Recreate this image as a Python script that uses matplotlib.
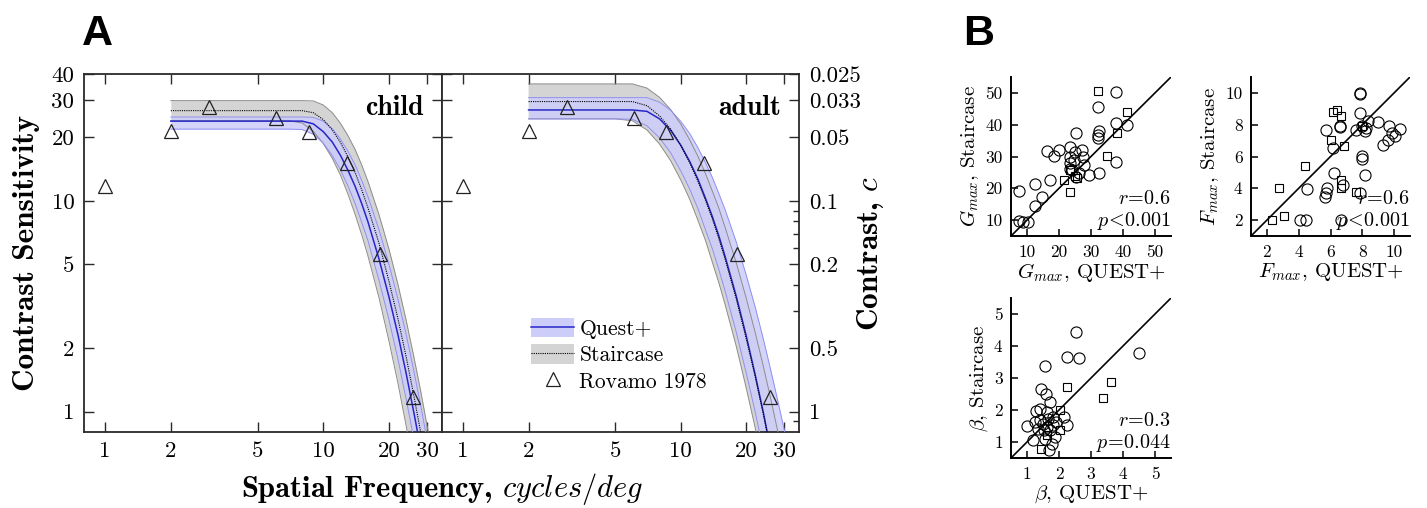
import matplotlib
matplotlib.use('Agg')
import matplotlib.pyplot as plt
from matplotlib.lines import Line2D
from matplotlib.patches import Patch
from matplotlib.ticker import FixedLocator, NullLocator

plt.rcParams['font.family'] = 'serif'
plt.rcParams['font.serif'] = ['cmr10']
plt.rcParams['mathtext.fontset'] = 'cm'
plt.rcParams['axes.unicode_minus'] = False
plt.rcParams['axes.formatter.use_mathtext'] = True

# ---- panel A: contrast sensitivity curves ----
freq = [2, 4, 5, 6, 7, 8, 9, 10, 11, 12, 13, 14, 15, 16, 18, 20, 22, 24, 26, 28, 30, 33]

child_quest = [23.9, 23.9, 23.9, 23.9, 23.9, 23.9, 23.2, 21.3, 19.0, 16.4, 13.9, 11.7, 9.7, 7.98, 5.3, 3.5,
               2.31, 1.51, 0.99, 0.66, 0.44, 0.24]
child_quest_hi = [25.0, 25.0, 25.0, 25.0, 25.0, 25.0, 24.9, 23.9, 22.0, 19.6, 17.1, 14.8, 12.5, 10.5, 7.3, 5.0,
                  3.41, 2.31, 1.56, 1.06, 0.72, 0.41]
child_quest_lo = [21.9, 21.9, 21.9, 21.9, 21.9, 21.8, 20.7, 18.8, 16.4, 14.0, 11.7, 9.7, 7.9, 6.5, 4.2, 2.73,
                  1.77, 1.14, 0.74, 0.48, 0.32, 0.17]
child_stair = [26.8, 26.8, 26.8, 26.8, 26.8, 26.8, 26.2, 24.3, 21.7, 18.9, 16.1, 13.6, 11.3, 9.3, 6.3, 4.15,
               2.75, 1.81, 1.19, 0.79, 0.53, 0.29]
child_stair_hi = [29.9, 29.9, 29.9, 29.9, 29.9, 29.9, 29.8, 28.5, 26.2, 23.3, 20.3, 17.5, 14.8, 12.4, 8.6, 5.9,
                  4.0, 2.70, 1.82, 1.24, 0.84, 0.47]
child_stair_lo = [24.0, 24.0, 24.0, 24.0, 24.0, 23.4, 21.4, 18.7, 15.9, 13.2, 10.7, 8.6, 6.9, 5.5, 3.47, 2.16,
                  1.36, 0.85, 0.54, 0.34, 0.22, 0.15]

adult_quest = [27.0, 27.0, 27.0, 27.0, 26.6, 24.5, 21.6, 18.4, 15.4, 12.7, 10.3, 8.4, 6.8, 5.46, 3.54, 2.30,
               1.50, 0.99, 0.65, 0.44, 0.30, 0.18]
adult_quest_hi = [30.9, 30.9, 30.9, 30.9, 30.9, 29.4, 26.9, 23.9, 20.9, 17.9, 15.2, 12.9, 10.8, 9.1, 6.4, 4.46,
                  3.14, 2.21, 1.56, 1.12, 0.81, 0.50]
adult_quest_lo = [24.5, 24.5, 24.5, 24.4, 22.7, 19.9, 16.9, 13.9, 11.4, 9.2, 7.3, 5.9, 4.7, 3.74, 2.39, 1.53,
                  1.0, 0.65, 0.43, 0.29, 0.20, 0.12]
adult_stair = [29.6, 29.6, 29.6, 29.6, 28.3, 25.3, 21.9, 18.4, 15.2, 12.4, 10.1, 8.2, 6.6, 5.3, 3.44, 2.23,
               1.47, 0.97, 0.65, 0.44, 0.30, 0.18]
adult_stair_hi = [35.9, 35.9, 35.9, 35.9, 34.3, 31.0, 27.1, 23.2, 19.5, 16.3, 13.5, 11.1, 9.2, 7.5, 5.1, 3.47,
                  2.38, 1.64, 1.14, 0.80, 0.57, 0.34]
adult_stair_lo = [24.5, 24.5, 24.5, 24.0, 21.7, 18.6, 15.5, 12.6, 10.2, 8.1, 6.5, 5.1, 4.07, 3.23, 2.05, 1.30,
                  0.84, 0.55, 0.36, 0.24, 0.16, 0.10]

rovamo_f = [1, 2, 3, 6.1, 8.6, 12.8, 18.2, 25.7]
rovamo_cs = [11.7, 21.5, 28.0, 24.7, 21.3, 15.1, 5.57, 1.17]

cs_ticks = [1, 2, 5, 10, 20, 30, 40]
cs_labels = ['1', '2', '5', '10', '20', '30', '40']
contrast_labels = ['1', '0.5', '0.2', '0.1', '0.05', '0.033', '0.025']
sf_ticks = [1, 2, 5, 10, 20, 30]

# ---- panel B: parameter scatter, QUEST+ (x) vs staircase (y) ----
gmax_circ_x = [7.6, 7.6, 8.7, 10.2, 12.6, 12.6, 14.6, 16.2, 17.1, 18.4, 19.9, 23.3, 23.3, 23.3, 23.3, 24.1,
               25.4, 25.4, 26.1, 27.1, 27.6, 27.8, 29.4, 32.3, 32.5, 32.3, 32.3, 32.5, 37.9, 37.9, 37.9, 41.2,
               24.9, 24.6]
gmax_circ_y = [19.1, 9.7, 9.5, 9.5, 21.5, 14.5, 17.3, 31.8, 22.6, 30.3, 32.2, 33.0, 29.9, 27.8, 26.2, 25.7,
               37.4, 23.6, 24.7, 32.0, 29.9, 27.3, 24.1, 45.6, 37.9, 36.7, 35.9, 24.7, 50.2, 40.4, 28.3, 39.8,
               31.5, 28.8]
gmax_sq_x = [32.3, 41.2, 38.1, 35.0, 21.5, 23.5, 23.5, 25.1, 25.6]
gmax_sq_y = [50.6, 44.0, 37.4, 30.2, 22.6, 18.9, 25.7, 23.9, 23.1]

fmax_circ_x = [5.74, 6.16, 6.20, 5.78, 5.70, 5.63, 4.52, 4.10, 4.48, 6.64, 6.58, 6.60, 6.79, 7.59, 7.84, 7.84,
               7.86, 7.84, 7.95, 8.01, 8.01, 8.16, 8.26, 8.37, 9.0, 9.31, 9.63, 9.69, 9.84, 10.05, 10.36, 8.16]
fmax_circ_y = [7.68, 6.53, 4.99, 4.0, 3.68, 3.47, 3.96, 2.0, 2.0, 2.0, 7.89, 7.84, 4.21, 7.68, 3.68, 10.0,
               9.96, 8.74, 7.89, 6.04, 5.83, 4.84, 7.79, 8.21, 8.15, 6.74, 7.05, 7.89, 7.47, 7.26, 7.73, 7.58]
fmax_sq_x = [2.32, 2.74, 3.05, 4.42, 6.0, 6.16, 6.41, 6.68, 6.85, 6.64, 6.64, 7.63, 7.99]
fmax_sq_y = [2.0, 4.04, 2.27, 5.41, 7.05, 8.80, 8.91, 8.53, 6.69, 4.0, 4.53, 3.79, 7.89]

beta_circ_x = [2.53, 2.26, 2.61, 4.50, 1.56, 1.45, 1.59, 1.71, 1.40, 1.29, 1.61, 1.80, 2.15, 2.24, 1.0, 1.19,
               1.56, 1.77, 1.69, 1.40, 1.50, 1.61, 1.82, 1.35, 1.71, 1.87, 1.24, 1.52, 1.92, 1.66]
beta_circ_y = [4.45, 3.66, 3.64, 3.79, 3.37, 2.67, 2.51, 2.25, 2.04, 1.97, 1.94, 1.78, 1.78, 1.52, 1.49, 1.05,
               1.10, 0.95, 0.74, 1.68, 1.57, 1.47, 1.52, 1.42, 1.37, 1.16, 1.63, 1.37, 1.63, 1.73]
beta_sq_x = [2.24, 3.62, 3.37, 2.03, 2.03, 1.45, 1.61]
beta_sq_y = [2.72, 2.88, 2.39, 1.99, 1.37, 0.79, 1.21]

W, H = 1427, 508
GRAY_FILL = '#d4d4d4'
GRAY_EDGE = '#8c8c8c'
BLUE_FILL = '#cdcdfa'
BLUE_EDGE = '#9090f2'
BLUE_LINE = '#2626c8'
FRAME = '#2a2a2a'

fig = plt.figure(figsize=(W / 100, H / 100), dpi=100)


def px_axes(left, top, right, bottom):
    return fig.add_axes([left / W, 1 - bottom / H, (right - left) / W, (bottom - top) / H])


def draw_csf(ax, q_mid, q_lo, q_hi, s_mid, s_lo, s_hi, name):
    ax.fill_between(freq, s_lo, s_hi, color=GRAY_FILL, lw=0, zorder=1)
    ax.fill_between(freq, q_lo, q_hi, color=BLUE_FILL, alpha=0.85, lw=0, zorder=2)
    for edge in (s_lo, s_hi):
        ax.plot(freq, edge, color=GRAY_EDGE, lw=0.7, zorder=3)
    for edge in (q_lo, q_hi):
        ax.plot(freq, edge, color=BLUE_EDGE, lw=0.7, zorder=3)
    ax.plot(freq, q_mid, color=BLUE_LINE, lw=1.1, zorder=4)
    ax.plot(freq, s_mid, color='k', lw=0.8, ls=(0, (1, 1)), zorder=5)
    ax.plot(rovamo_f, rovamo_cs, ls='none', marker='^', ms=10.5, mfc='none', mec='#222222', mew=0.9, zorder=6)

    ax.set_xscale('log')
    ax.set_yscale('log')
    ax.set_xlim(0.8, 35)
    ax.set_ylim(0.8, 40)
    ax.xaxis.set_major_locator(FixedLocator(sf_ticks))
    ax.set_xticklabels([str(t) for t in sf_ticks])
    ax.xaxis.set_minor_locator(NullLocator())
    ax.yaxis.set_major_locator(FixedLocator(cs_ticks))
    ax.yaxis.set_minor_locator(NullLocator())
    ax.tick_params(which='both', direction='in', top=True, right=True, left=True, bottom=True,
                   length=7, width=1.0, color=FRAME, labelsize=16.5, pad=7)
    for sp in ax.spines.values():
        sp.set_color(FRAME)
        sp.set_linewidth(1.3)
    ax.text(0.95, 0.905, name, transform=ax.transAxes, ha='right', va='center',
            fontsize=20, family='cmb10')


ax_child = px_axes(84, 74, 442, 432)
draw_csf(ax_child, child_quest, child_quest_lo, child_quest_hi,
         child_stair, child_stair_lo, child_stair_hi, 'child')
ax_child.set_yticklabels(cs_labels)

ax_adult = px_axes(442, 74, 799, 432)
draw_csf(ax_adult, adult_quest, adult_quest_lo, adult_quest_hi,
         adult_stair, adult_stair_lo, adult_stair_hi, 'adult')
ax_adult.set_yticklabels(contrast_labels)
ax_adult.tick_params(axis='y', labelleft=False, labelright=True)
ax_adult.yaxis.set_minor_locator(FixedLocator([0.9, 3, 4, 6, 7, 8, 9]))
ax_adult.tick_params(axis='y', which='minor', left=False, right=True, length=4)

leg_handles = [
    (Patch(facecolor=BLUE_FILL, edgecolor='none'), Line2D([], [], color=BLUE_LINE, lw=1.1)),
    (Patch(facecolor=GRAY_FILL, edgecolor='none'), Line2D([], [], color='k', lw=0.8, ls=(0, (1, 1)))),
    Line2D([], [], ls='none', marker='^', ms=10.5, mfc='none', mec='#222222', mew=0.9),
]
ax_adult.legend(leg_handles, ['Quest+', 'Staircase', 'Rovamo 1978'], loc='upper left',
                bbox_to_anchor=(531 / W, 1 - 318 / H), bbox_transform=fig.transFigure,
                frameon=False, fontsize=15.5, borderpad=0, handlelength=2.0, handleheight=1.0,
                handletextpad=0.25, labelspacing=0.25, borderaxespad=0)

fig.text(27 / W, 1 - 253 / H, 'Contrast Sensitivity', rotation=90, ha='center', va='center',
         fontsize=22.5, family='cmb10')
fig.text(871 / W, 1 - 253 / H, 'Contrast, $c$', rotation=90, ha='center', va='center',
         fontsize=22.5, family='cmb10')
fig.text(442 / W, 1 - 489 / H, 'Spatial Frequency, $cycles/deg$', ha='center', va='center',
         fontsize=22, family='cmb10')


def draw_scatter(ax, cx, cy, sx, sy, lim, ticks, name, r_txt, p_txt):
    ax.plot(lim, lim, color='k', lw=1.2, zorder=1)
    ax.plot(cx, cy, ls='none', marker='o', ms=8, mfc='none', mec='k', mew=0.8, zorder=2)
    ax.plot(sx, sy, ls='none', marker='s', ms=6, mfc='none', mec='k', mew=0.8, zorder=2)
    ax.set_xlim(lim)
    ax.set_ylim(lim)
    ax.set_xticks(ticks)
    ax.set_yticks(ticks)
    ax.set_xticklabels([str(t) for t in ticks])
    ax.set_yticklabels([str(t) for t in ticks])
    for side in ('top', 'right'):
        ax.spines[side].set_visible(False)
    for side in ('left', 'bottom'):
        ax.spines[side].set_linewidth(1.4)
    ax.tick_params(direction='in', length=5, width=1.1, labelsize=12.5, pad=6)
    ax.set_xlabel(name + ', QUEST+', fontsize=15, labelpad=1)
    ax.set_ylabel(name + ', Staircase', fontsize=15, labelpad=3)
    ax.text(1.0, 0.23, r_txt, transform=ax.transAxes, ha='right', va='center', fontsize=14.5)
    ax.text(1.0, 0.095, p_txt, transform=ax.transAxes, ha='right', va='center', fontsize=14.5)


ax_g = px_axes(1011, 77, 1171, 236)
draw_scatter(ax_g, gmax_circ_x, gmax_circ_y, gmax_sq_x, gmax_sq_y, (5, 55), [10, 20, 30, 40, 50],
             '$G_{max}$', r'$r\!=\!0.6$', r'$p\!<\!0.001$')
ax_f = px_axes(1251, 77, 1410, 236)
draw_scatter(ax_f, fmax_circ_x, fmax_circ_y, fmax_sq_x, fmax_sq_y, (1, 11), [2, 4, 6, 8, 10],
             '$F_{max}$', r'$r\!=\!0.6$', r'$p\!<\!0.001$')
ax_b = px_axes(1011, 298, 1171, 458)
draw_scatter(ax_b, beta_circ_x, beta_circ_y, beta_sq_x, beta_sq_y, (0.5, 5.5), [1, 2, 3, 4, 5],
             r'$\beta$', r'$r\!=\!0.3$', r'$p\!=\!0.044$')

fig.text(97 / W, 1 - 34 / H, 'A', ha='center', va='center', fontsize=31, fontweight='bold',
         family='Liberation Sans')
fig.text(979 / W, 1 - 34 / H, 'B', ha='center', va='center', fontsize=31, fontweight='bold',
         family='Liberation Sans')

fig.savefig('out.png', dpi=100)
